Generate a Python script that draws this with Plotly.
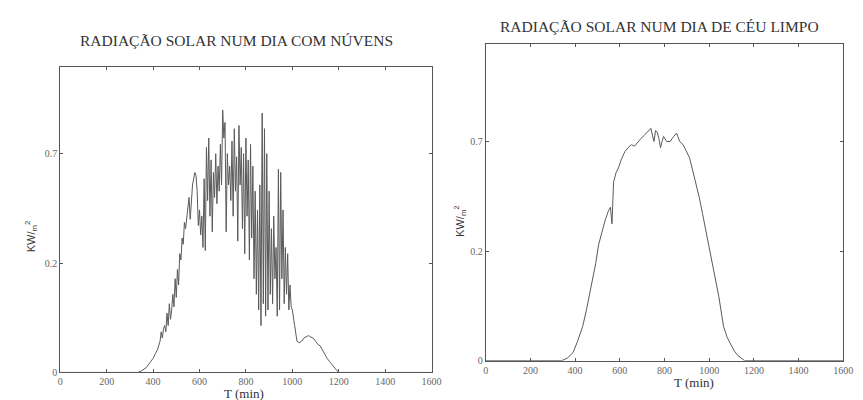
import plotly.graph_objects as go

# --- Cloudy day (left) ---
t_cloudy = [0, 100, 200, 300, 335, 350, 370, 390, 400, 410, 420, 430, 435, 440, 445, 450, 455, 460, 465, 470,
            475, 480, 485, 490, 495, 500, 505, 510, 515, 520, 525, 530, 535, 540, 545, 550, 555, 560, 565, 570,
            575, 580, 585, 590, 595, 600, 605, 610, 615, 620, 625, 630, 635, 640, 645, 650, 655, 660, 665, 670,
            675, 680, 685, 690, 695, 700, 705, 710, 715, 720, 725, 730, 735, 740, 745, 750, 755, 760, 765, 770,
            775, 780, 785, 790, 795, 800, 805, 810, 815, 820, 825, 830, 835, 840, 845, 850, 855, 860, 865, 870,
            875, 880, 885, 890, 895, 900, 905, 910, 915, 920, 925, 930, 935, 940, 945, 950, 955, 960, 965, 970,
            975, 980, 985, 990, 995, 1000, 1010, 1020, 1030, 1040, 1050, 1060, 1070, 1080, 1090, 1100, 1110, 1120,
            1130, 1140, 1150, 1160, 1170, 1180, 1190, 1200, 1300, 1400, 1500, 1600]
rad_cloudy = [0, 0, 0, 0, 0, 0.005, 0.015, 0.035, 0.045, 0.06, 0.075, 0.10, 0.13, 0.11, 0.14, 0.15, 0.13, 0.19, 0.15, 0.22,
              0.17, 0.20, 0.25, 0.21, 0.30, 0.24, 0.33, 0.28, 0.38, 0.36, 0.43, 0.41, 0.48, 0.46, 0.50, 0.52, 0.56, 0.49, 0.55, 0.60,
              0.62, 0.64, 0.63, 0.58, 0.47, 0.52, 0.44, 0.50, 0.40, 0.62, 0.39, 0.72, 0.55, 0.75, 0.50, 0.68, 0.45, 0.64, 0.56, 0.70,
              0.54, 0.66, 0.58, 0.73, 0.60, 0.84, 0.75, 0.80, 0.45, 0.70, 0.60, 0.66, 0.55, 0.74, 0.50, 0.78, 0.58, 0.69, 0.42, 0.79,
              0.60, 0.72, 0.46, 0.70, 0.38, 0.75, 0.50, 0.68, 0.36, 0.73, 0.43, 0.66, 0.30, 0.58, 0.25, 0.52, 0.20, 0.60, 0.15, 0.83,
              0.22, 0.78, 0.18, 0.70, 0.20, 0.58, 0.25, 0.46, 0.22, 0.50, 0.30, 0.40, 0.18, 0.65, 0.20, 0.64, 0.30, 0.52, 0.22, 0.40,
              0.25, 0.38, 0.20, 0.28, 0.21, 0.20, 0.15, 0.10, 0.095, 0.10, 0.11, 0.115, 0.118, 0.113, 0.11, 0.10, 0.09, 0.085,
              0.07, 0.055, 0.045, 0.035, 0.025, 0.018, 0.008, 0, 0, 0, 0, 0]

# --- Clear day (right) ---
t_clear = [0, 100, 200, 300, 340, 365, 391, 410, 434, 450, 463, 480, 492, 505, 521, 535, 550, 558, 565, 572,
           583, 594, 608, 623, 637, 652, 666, 681, 695, 710, 725, 739, 746, 753, 760, 767, 775, 782, 789, 796,
           810, 825, 840, 854, 868, 883, 897, 912, 927, 941, 956, 970, 985, 1000, 1014, 1028, 1043, 1064, 1080,
           1100, 1115, 1129, 1145, 1158, 1200, 1300, 1400, 1500, 1600]
rad_clear = [0, 0, 0, 0, 0, 0.008, 0.026, 0.06, 0.11, 0.16, 0.205, 0.26, 0.31, 0.37, 0.416, 0.45, 0.48, 0.49, 0.437, 0.57,
             0.60, 0.616, 0.645, 0.668, 0.68, 0.69, 0.685, 0.70, 0.71, 0.72, 0.73, 0.742, 0.72, 0.70, 0.735, 0.73, 0.71, 0.68, 0.70, 0.716,
             0.70, 0.70, 0.715, 0.727, 0.70, 0.69, 0.67, 0.648, 0.605, 0.565, 0.52, 0.47, 0.416, 0.36, 0.30, 0.25, 0.205, 0.11, 0.075,
             0.047, 0.028, 0.016, 0.006, 0, 0, 0, 0, 0, 0]

x_ticks = [0, 200, 400, 600, 800, 1000, 1200, 1400, 1600]
x_ticklabels = ["0", "200", "400", "600", "800", "1000", "1200", "1400", "1600"]
y_ticks = [0, 0.35, 0.7]
y_ticklabels = ["0", "0.2", "0.7"]

titles = ["RADIAÇÃO SOLAR NUM DIA COM NÚVENS", "RADIAÇÃO SOLAR NUM DIA DE CÉU LIMPO"]

W, H = 863, 400
line_col = "#5a5a5a"

fig = go.Figure()
fig.add_trace(go.Scatter(x=t_cloudy, y=rad_cloudy, mode="lines", line=dict(color=line_col, width=1),
                         xaxis="x", yaxis="y", showlegend=False))
fig.add_trace(go.Scatter(x=t_clear, y=rad_clear, mode="lines", line=dict(color=line_col, width=1),
                         xaxis="x2", yaxis="y2", showlegend=False))

axis_common = dict(showgrid=False, zeroline=False, showline=True, linecolor="#555", linewidth=1,
                   mirror="ticks", ticks="inside", ticklen=3, tickcolor="#555",
                   tickfont=dict(family="Liberation Serif", size=10, color="#666"))

fig.update_layout(
    width=W, height=H,
    margin=dict(l=0, r=0, t=0, b=0),
    paper_bgcolor="white", plot_bgcolor="white",
    xaxis=dict(domain=[50 / W, 427 / W], range=[0, 1600], tickvals=x_ticks, ticktext=x_ticklabels,
               anchor="y", **axis_common),
    yaxis=dict(domain=[1 - 370 / H, 1 - 60 / H], range=[0, 0.977], tickvals=y_ticks, ticktext=y_ticklabels,
               anchor="x", **axis_common),
    xaxis2=dict(domain=[482 / W, 845 / W], range=[0, 1600], tickvals=x_ticks, ticktext=x_ticklabels,
                anchor="y2", **axis_common),
    yaxis2=dict(domain=[1 - 358 / H, 1 - 37 / H], range=[0, 1.01], tickvals=y_ticks, ticktext=y_ticklabels,
                anchor="x2", **axis_common),
)

ann_font = dict(family="Liberation Serif", size=15.5, color="#333")
small_font = dict(family="Liberation Serif", size=13, color="#333")
fig.add_annotation(text=titles[0], x=229 / W, y=1 - 33 / H, xref="paper", yref="paper",
                   showarrow=False, font=ann_font, xanchor="center", yanchor="middle")
fig.add_annotation(text=titles[1], x=658 / W, y=1 - 19 / H, xref="paper", yref="paper",
                   showarrow=False, font=ann_font, xanchor="center", yanchor="middle")
fig.add_annotation(text="T (min)", x=237 / W, y=1 - 391 / H, xref="paper", yref="paper",
                   showarrow=False, font=small_font, xanchor="center", yanchor="middle")
fig.add_annotation(text="T (min)", x=693 / W, y=1 - 380 / H, xref="paper", yref="paper",
                   showarrow=False, font=small_font, xanchor="center", yanchor="middle")
fig.add_annotation(text="KW/<sub>m</sub><sup>2</sup>", x=20 / W, y=1 - 232 / H, xref="paper", yref="paper",
                   showarrow=False, font=dict(family="Liberation Sans", size=11, color="#333"),
                   textangle=-90, xanchor="center", yanchor="middle")
fig.add_annotation(text="KW/<sub>m</sub><sup>2</sup>", x=456 / W, y=1 - 217 / H, xref="paper", yref="paper",
                   showarrow=False, font=dict(family="Liberation Sans", size=11, color="#333"),
                   textangle=-90, xanchor="center", yanchor="middle")

fig.write_html("out.html")
